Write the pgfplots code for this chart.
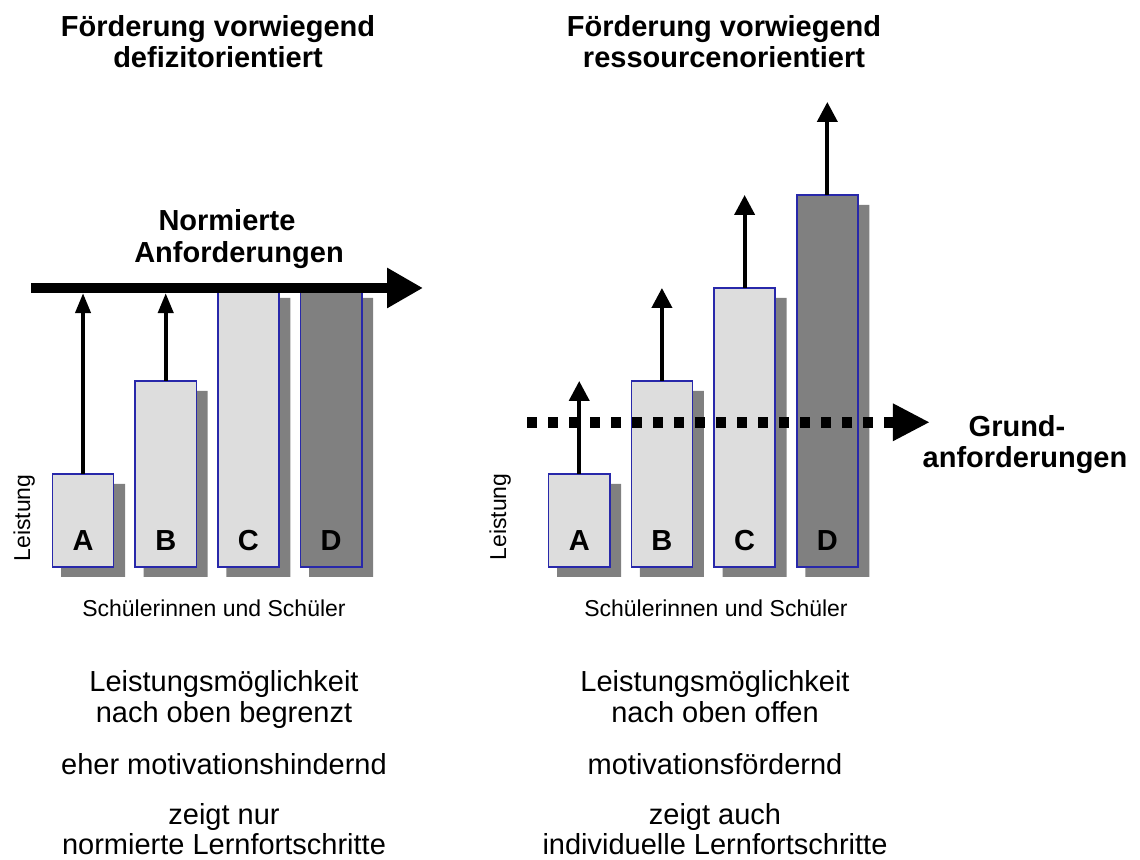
\documentclass[border=0pt]{standalone}
\usepackage{fontspec}
\setmainfont{Liberation Sans}
\usepackage{pgfplots}
\usepackage{pgfplotstable}
\pgfplotsset{compat=1.18}
\usetikzlibrary{arrows.meta}
\definecolor{barlight}{RGB}{221,221,221}
\definecolor{bardark}{RGB}{128,128,128}
\definecolor{barborder}{RGB}{40,40,170}

% x: student position (left panel 0..3, right panel 6..9), y: Leistung level
\pgfplotstableread{
x y
0 1
1 2
2 3
6 1
7 2
8 3
}\lightbars
\pgfplotstableread{
x y
3 3
9 4
}\darkbars
\pgfplotstableread{
x y
0 1
1 2
2 3
3 3
6 1
7 2
8 3
9 4
}\shadowbars

\newcommand{\bigf}{\fontsize{14.5pt}{17pt}\selectfont}
\newcommand{\smallf}{\fontsize{11.5pt}{13pt}\selectfont}

\begin{document}
\begin{tikzpicture}
\useasboundingbox (0,0) rectangle (570pt,430pt);
\pgfplotsset{panel/.style={x=41.35pt, y=46.5pt, xmin=-0.75, xmax=9.75, ymin=0, ymax=5.2,
  hide axis, clip=false, anchor=south west}}
% shadows
\begin{axis}[panel, at={(15.5pt,141.5pt)}]
\addplot[ybar, bar width=32pt, bar shift=0pt, fill=bardark, draw=none] table {\shadowbars};
\end{axis}
% bars
\begin{axis}[panel, at={(10.5pt,146.5pt)}]
\addplot[ybar, bar width=30.6pt, bar shift=0pt, fill=barlight, draw=barborder, line width=0.8pt] table {\lightbars};
\addplot[ybar, bar width=30.6pt, bar shift=0pt, fill=bardark, draw=barborder, line width=0.8pt] table {\darkbars};
% left arrows up to norm
\addplot[line width=2pt, -{Triangle[length=10pt,width=7.5pt]}] coordinates {(0,1) (0,2.945)};
\addplot[line width=2pt, -{Triangle[length=10pt,width=7.5pt]}] coordinates {(1,2) (1,2.945)};
% right arrows
\addplot[line width=2pt, -{Triangle[length=10pt,width=10pt]}] coordinates {(6,1) (6,2)};
\addplot[line width=2pt, -{Triangle[length=10pt,width=10pt]}] coordinates {(7,2) (7,3)};
\addplot[line width=2pt, -{Triangle[length=10pt,width=10pt]}] coordinates {(8,3) (8,4)};
\addplot[line width=2pt, -{Triangle[length=10pt,width=10pt]}] coordinates {(9,4) (9,5)};
% norm line
\addplot[line width=5.35pt, -{Triangle[length=18pt,width=19pt]}] coordinates {(-0.629,3) (4.111,3)};
% basic requirements dotted
\addplot[line width=5.5pt, line cap=butt, dash pattern=on 5pt off 5.5pt, -{Triangle[length=18.5pt,width=17.5pt]}] coordinates {(5.369,1.556) (10.24,1.556)};
% letters
\node[font=\bigf\bfseries, anchor=base] at (axis cs:0,0.172) {A};
\node[font=\bigf\bfseries, anchor=base] at (axis cs:1,0.172) {B};
\node[font=\bigf\bfseries, anchor=base] at (axis cs:2,0.172) {C};
\node[font=\bigf\bfseries, anchor=base] at (axis cs:3,0.172) {D};
\node[font=\bigf\bfseries, anchor=base] at (axis cs:6,0.172) {A};
\node[font=\bigf\bfseries, anchor=base] at (axis cs:7,0.172) {B};
\node[font=\bigf\bfseries, anchor=base] at (axis cs:8,0.172) {C};
\node[font=\bigf\bfseries, anchor=base] at (axis cs:9,0.172) {D};
\end{axis}
% titles
\node[anchor=base, font=\bigf\bfseries] at (109pt,411.5pt) {Förderung vorwiegend};
\node[anchor=base, font=\bigf\bfseries] at (109pt,396pt) {defizitorientiert};
\node[anchor=base, font=\bigf\bfseries] at (362pt,411.5pt) {Förderung vorwiegend};
\node[anchor=base, font=\bigf\bfseries] at (362pt,396pt) {ressourcenorientiert};
\node[anchor=base, font=\bigf\bfseries] at (113.5pt,314.5pt) {Normierte};
\node[anchor=base, font=\bigf\bfseries] at (119.5pt,298.5pt) {Anforderungen};
\node[anchor=base, font=\bigf\bfseries] at (508.5pt,211.5pt) {Grund-};
\node[anchor=base, font=\bigf\bfseries] at (512.5pt,196pt) {anforderungen};
% axis-like labels
\node[anchor=base, rotate=90, font=\smallf] at (15pt,171pt) {Leistung};
\node[anchor=base, rotate=90, font=\smallf] at (253pt,171.5pt) {Leistung};
\node[anchor=base, font=\smallf] at (107pt,121.5pt) {Schülerinnen und Schüler};
\node[anchor=base, font=\smallf] at (358pt,121.5pt) {Schülerinnen und Schüler};
% bottom texts
\node[anchor=base, font=\bigf] at (112pt,84pt) {Leistungsmöglichkeit};
\node[anchor=base, font=\bigf] at (112pt,68.5pt) {nach oben begrenzt};
\node[anchor=base, font=\bigf] at (112pt,42.5pt) {eher motivationshindernd};
\node[anchor=base, font=\bigf] at (112pt,17.5pt) {zeigt nur};
\node[anchor=base, font=\bigf] at (112pt,2.5pt) {normierte Lernfortschritte};
\node[anchor=base, font=\bigf] at (357.5pt,84pt) {Leistungsmöglichkeit};
\node[anchor=base, font=\bigf] at (357.5pt,68.5pt) {nach oben offen};
\node[anchor=base, font=\bigf] at (357.5pt,42.5pt) {motivationsfördernd};
\node[anchor=base, font=\bigf] at (357.5pt,17.5pt) {zeigt auch};
\node[anchor=base, font=\bigf] at (357.5pt,2.5pt) {individuelle Lernfortschritte};
\end{tikzpicture}
\end{document}
